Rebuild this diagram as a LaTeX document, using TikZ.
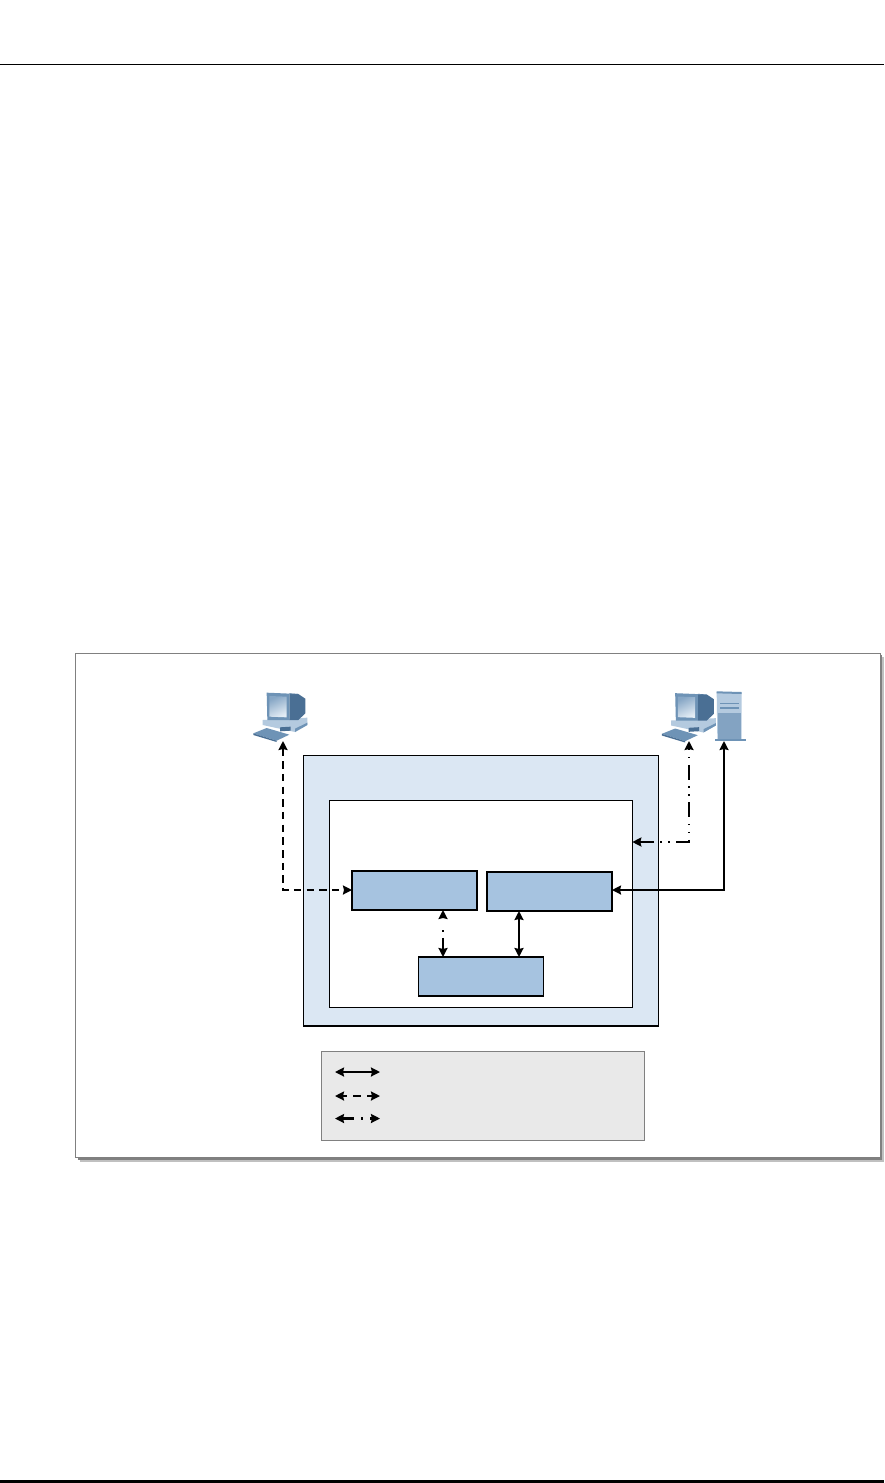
\documentclass[tikz,border=0pt]{standalone}
\usetikzlibrary{arrows.meta}
\definecolor{framegray}{HTML}{808080}
\definecolor{shadowgray}{HTML}{C0C0C0}
\definecolor{paleblue}{HTML}{DBE7F3}
\definecolor{midblue}{HTML}{A6C3E0}
\definecolor{legendgray}{HTML}{E9E9E9}
\definecolor{iconlight}{HTML}{B4CADF}
\definecolor{iconmid}{HTML}{6E93B6}
\definecolor{icondark}{HTML}{4A6F94}
\definecolor{iconpale}{HTML}{E4EDF5}
\definecolor{iconscreen}{HTML}{86A6C5}
\tikzset{
  x=1pt,y=-1pt,
  blockbox/.style={draw=black,line width=1.5pt,fill=midblue,minimum width=125pt,minimum height=39pt,inner sep=0pt,outer sep=0pt},
  link/.style={line width=2.1pt,{Stealth[length=9pt,width=9pt,inset=1pt]}-{Stealth[length=9pt,width=9pt,inset=1pt]}},
  solidlink/.style={link},
  dashlink/.style={link,dash pattern=on 7.5pt off 5.2pt},
  dotlink/.style={link,dash pattern=on 15pt off 6.5pt on 1.5pt off 6.5pt on 1.5pt off 6.5pt,dash phase=21pt},
  pics/pccomp/.style={code={
    \fill[iconlight] (98,150)--(232,143)--(232,165)--(195,186)--(98,165)--cycle;
    \fill[iconmid] (195,186)--(232,165)--(232,158)--(195,176)--cycle;
    \fill[icondark] (150,172)--(182,170)--(182,182)--(150,184)--cycle;
    \fill[icondark] (178,70)--(205,72)--(226,86)--(226,130)--(205,150)--(178,150)--cycle;
    \fill[iconmid] (110,68)--(205,72)--(178,72)--(178,150)--(112,150)--cycle;
    \shade[top color=iconscreen,bottom color=iconpale,shading angle=25] (118,78)--(170,80)--(170,142)--(118,140)--cycle;
    \fill[iconmid] (70,190)--(110,174)--(178,194)--(140,212)--cycle;
    \fill[icondark] (70,190)--(140,212)--(140,216)--(70,195)--cycle;
  }},
  pics/servertower/.style={code={
    \fill[iconlight] (230,66)--(305,68)--(305,210)--(232,210)--cycle;
    \fill[iconmid] (230,64)--(305,66)--(305,72)--(230,70)--cycle;
    \fill[iconmid!70!iconlight] (235,130)--(303,130)--(303,208)--(235,208)--cycle;
    \fill[iconmid] (240,98)--(298,98)--(298,103)--(240,103)--cycle;
    \fill[iconmid] (240,112)--(298,112)--(298,117)--(240,117)--cycle;
    \fill[iconmid] (225,208)--(318,208)--(318,214)--(225,214)--cycle;
  }}
}
\begin{document}
\begin{tikzpicture}
\useasboundingbox (0,0) rectangle (884,1483);
\fill[white] (0,0) rectangle (884,1483);
% page rules
\draw[line width=1pt] (0,64.5) -- (884,64.5);
\fill[black] (0,1480) rectangle (884,1483);
% outer frame with shadow
\fill[shadowgray] (80,657) rectangle (884,1162);
\fill[framegray] (78,655) rectangle (882,1159.5);
\draw[framegray,line width=1pt,fill=white] (75.7,653) rectangle (880.5,1157.5);
% nested boxes
\node[draw=black,line width=1.2pt,fill=paleblue,minimum width=355pt,minimum height=270.3pt,inner sep=0pt,outer sep=0pt] (server) at (480.9,890.9) {};
\node[draw=black,line width=1.5pt,fill=white,minimum width=303pt,minimum height=207pt,inner sep=0pt,outer sep=0pt] (inner) at (480.8,904.2) {};
\node[blockbox] (a) at (414.5,890.5) {};
\node[blockbox] (b) at (549.5,891.5) {};
\node[blockbox] (c) at (481,976.5) {};
% icons
\pic[scale=1/3] at (230,670) {pccomp};
\pic[scale=1/3] at (638.5,670.5) {pccomp};
\pic[scale=1/3] at (640,670) {servertower};
\coordinate (pcleft) at (283,741);
\coordinate (pcright) at (689,741);
\coordinate (tower) at (724,741);
\coordinate (innerport) at (inner.east |- 0,842);
\coordinate (aport) at (a.west |- 0,890);
\coordinate (bport) at (b.east |- 0,890);
% connectors
\draw[dashlink] (pcleft) |- (aport);
\draw[dotlink] (pcright) |- (innerport);
\draw[solidlink] (tower) |- (bport);
\draw[link,dash pattern=on 15pt off 27pt on 1.5pt off 6pt,dash phase=29pt] (a.south -| 443,0) -- (c.north -| 443,0);
\draw[solidlink] (b.south -| 519,0) -- (c.north -| 519,0);
% legend
\node[draw=framegray,line width=1pt,fill=legendgray,minimum width=323pt,minimum height=89pt,inner sep=0pt,outer sep=0pt] (legend) at (482.5,1095.5) {};
\coordinate (l1a) at (335,1072); \coordinate (l1b) at (380,1072);
\coordinate (l2a) at (335,1096); \coordinate (l2b) at (380,1096);
\coordinate (l3a) at (335,1118.5); \coordinate (l3b) at (380,1118.5);
\draw[solidlink] (l1a) -- (l1b);
\draw[link,dash pattern=on 8pt off 6pt,dash phase=3pt] (l2a) -- (l2b);
\draw[link,dash pattern=on 12pt off 7pt on 1.5pt off 7.5pt on 1.5pt off 20pt] (l3a) -- (l3b);
\end{tikzpicture}
\end{document}
